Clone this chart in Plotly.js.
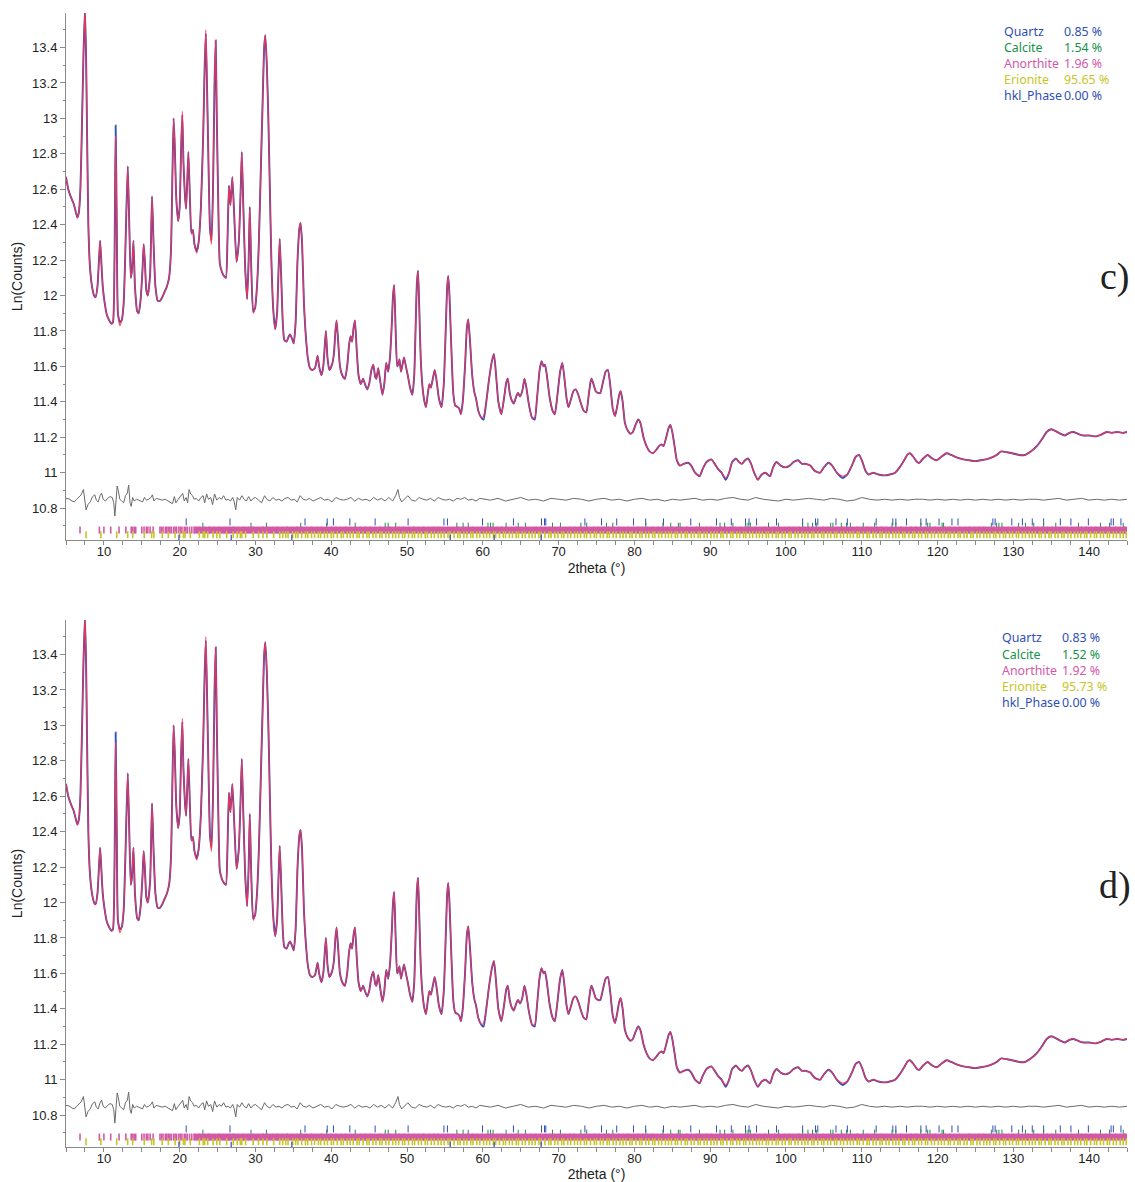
<!DOCTYPE html>
<html><head><meta charset="utf-8">
<script src="https://cdn.plot.ly/plotly-3.0.1.min.js"></script>
<style>html,body{margin:0;padding:0;background:#fff}</style>
</head><body><div id="chart" style="width:1135px;height:1182px"></div>
<script>
// ---------- DATA ----------
// observed profile: [2theta, Ln(Counts)]
const observed = [
[5.0,12.67],[5.3,12.6],[5.7,12.55],[6.0,12.52],[6.3,12.47],[6.5,12.44],[6.7,12.47],[6.9,12.6],[7.1,12.95],[7.3,13.35],[7.5,13.62],[7.65,13.35],[7.8,12.85],[7.95,12.4],[8.15,12.17],[8.4,12.06],[8.7,12.0],[8.9,11.99],[9.15,12.05],[9.35,12.2],[9.5,12.31],[9.65,12.2],[9.85,12.05],[10.1,11.96],[10.4,11.89],[10.7,11.86],[11.0,11.84],[11.2,11.85],[11.4,12.2],[11.55,12.96],[11.7,12.4],[11.85,11.9],[12.1,11.85],[12.35,11.86],[12.6,11.95],[12.8,12.2],[12.95,12.45],[13.15,12.73],[13.35,12.4],[13.55,12.1],[13.7,12.14],[13.9,12.31],[14.1,12.05],[14.4,11.91],[14.6,11.9],[14.85,11.98],[15.1,12.15],[15.25,12.29],[15.4,12.2],[15.6,12.03],[15.8,12.0],[16.1,12.12],[16.35,12.56],[16.55,12.3],[16.8,12.05],[17.1,11.97],[17.4,11.97],[17.7,11.99],[18.0,12.02],[18.3,12.05],[18.6,12.1],[18.85,12.25],[19.05,12.7],[19.2,13.0],[19.35,12.85],[19.55,12.55],[19.8,12.42],[20.0,12.5],[20.2,12.85],[20.35,13.02],[20.5,12.75],[20.7,12.56],[20.85,12.49],[21.0,12.65],[21.15,12.81],[21.35,12.55],[21.55,12.35],[21.75,12.37],[21.95,12.29],[22.25,12.25],[22.5,12.3],[22.8,12.5],[23.1,12.9],[23.3,13.3],[23.45,13.48],[23.6,13.2],[23.8,12.75],[24.0,12.38],[24.2,12.31],[24.4,12.6],[24.6,13.2],[24.75,13.44],[24.9,13.0],[25.1,12.5],[25.3,12.18],[25.6,12.13],[25.85,12.11],[26.1,12.1],[26.3,12.3],[26.5,12.62],[26.7,12.51],[26.95,12.67],[27.2,12.45],[27.5,12.19],[27.8,12.3],[28.05,12.6],[28.2,12.81],[28.4,12.5],[28.65,12.15],[28.9,11.98],[29.1,12.2],[29.25,12.5],[29.45,12.15],[29.7,11.91],[29.95,11.93],[30.2,12.05],[30.45,12.3],[30.7,12.7],[30.95,13.1],[31.15,13.4],[31.3,13.47],[31.5,13.3],[31.7,13.0],[31.9,12.6],[32.1,12.2],[32.35,11.92],[32.6,11.81],[32.85,11.9],[33.05,12.15],[33.2,12.32],[33.4,12.1],[33.6,11.85],[33.8,11.75],[34.1,11.74],[34.4,11.77],[34.55,11.78],[34.8,11.76],[35.05,11.73],[35.3,11.85],[35.55,12.2],[35.8,12.38],[35.95,12.41],[36.15,12.3],[36.4,11.95],[36.6,11.8],[36.9,11.65],[37.2,11.59],[37.5,11.58],[37.85,11.59],[38.05,11.63],[38.2,11.66],[38.4,11.6],[38.7,11.55],[38.95,11.6],[39.15,11.72],[39.3,11.8],[39.5,11.65],[39.75,11.58],[40.1,11.61],[40.35,11.67],[40.55,11.8],[40.7,11.86],[40.9,11.75],[41.15,11.6],[41.45,11.55],[41.8,11.53],[42.1,11.6],[42.35,11.72],[42.55,11.77],[42.75,11.74],[42.95,11.82],[43.13,11.86],[43.35,11.7],[43.6,11.55],[43.9,11.5],[44.2,11.53],[44.45,11.5],[44.75,11.47],[45.0,11.5],[45.3,11.58],[45.55,11.61],[45.8,11.54],[45.95,11.53],[46.2,11.59],[46.45,11.52],[46.75,11.44],[47.0,11.5],[47.25,11.62],[47.5,11.57],[47.75,11.65],[48.0,11.85],[48.15,12.0],[48.3,12.06],[48.5,11.8],[48.7,11.6],[48.9,11.62],[49.0,11.64],[49.2,11.57],[49.4,11.61],[49.6,11.65],[49.85,11.6],[50.1,11.55],[50.4,11.48],[50.7,11.44],[50.95,11.55],[51.15,11.85],[51.3,12.07],[51.45,12.14],[51.6,11.95],[51.8,11.65],[52.05,11.48],[52.3,11.4],[52.5,11.37],[52.75,11.45],[52.95,11.5],[53.15,11.48],[53.4,11.53],[53.65,11.58],[53.9,11.52],[54.2,11.42],[54.55,11.37],[54.85,11.5],[55.1,11.8],[55.3,12.05],[55.44,12.11],[55.6,12.0],[55.85,11.7],[56.1,11.45],[56.35,11.38],[56.7,11.37],[56.9,11.36],[57.1,11.33],[57.35,11.4],[57.65,11.6],[57.9,11.82],[58.08,11.865],[58.3,11.75],[58.6,11.55],[58.9,11.45],[59.1,11.42],[59.4,11.35],[59.8,11.31],[60.1,11.3],[60.4,11.38],[60.8,11.52],[61.2,11.63],[61.47,11.67],[61.75,11.55],[62.05,11.4],[62.45,11.33],[62.8,11.42],[63.1,11.51],[63.3,11.53],[63.55,11.45],[63.8,11.41],[64.1,11.39],[64.4,11.43],[64.65,11.45],[64.9,11.43],[65.2,11.46],[65.5,11.53],[65.75,11.48],[66.1,11.38],[66.5,11.31],[66.85,11.3],[67.15,11.42],[67.5,11.58],[67.75,11.63],[68.0,11.6],[68.2,11.61],[68.45,11.55],[68.8,11.43],[69.2,11.35],[69.5,11.33],[69.8,11.42],[70.2,11.57],[70.5,11.62],[70.8,11.52],[71.05,11.42],[71.3,11.37],[71.6,11.41],[71.95,11.46],[72.25,11.47],[72.6,11.44],[72.95,11.39],[73.3,11.35],[73.65,11.34],[73.95,11.43],[74.2,11.51],[74.35,11.53],[74.6,11.5],[74.9,11.46],[75.2,11.45],[75.5,11.45],[75.8,11.5],[76.2,11.57],[76.5,11.58],[76.8,11.5],[77.15,11.36],[77.45,11.32],[77.75,11.38],[78.0,11.44],[78.2,11.46],[78.45,11.4],[78.75,11.28],[79.1,11.24],[79.5,11.22],[79.8,11.23],[80.15,11.27],[80.5,11.3],[80.8,11.28],[81.2,11.2],[81.6,11.15],[82.0,11.12],[82.45,11.11],[82.9,11.13],[83.25,11.15],[83.55,11.16],[83.85,11.15],[84.2,11.2],[84.5,11.25],[84.75,11.27],[85.0,11.23],[85.3,11.15],[85.6,11.07],[86.0,11.04],[86.5,11.05],[87.1,11.056],[87.5,11.04],[88.0,11.0],[88.6,10.98],[89.0,11.02],[89.5,11.06],[90.15,11.075],[90.6,11.05],[91.05,11.02],[91.5,11.0],[92.05,10.96],[92.5,11.0],[92.9,11.06],[93.4,11.08],[93.8,11.06],[94.2,11.05],[94.6,11.07],[95.0,11.08],[95.4,11.05],[95.8,11.0],[96.3,10.96],[96.8,10.99],[97.3,11.0],[97.9,10.98],[98.3,11.03],[98.75,11.06],[99.3,11.04],[99.9,11.03],[100.5,11.04],[101.0,11.06],[101.6,11.07],[102.1,11.05],[102.6,11.05],[103.2,11.04],[103.8,11.01],[104.5,11.0],[105.0,11.03],[105.6,11.056],[106.1,11.04],[106.7,11.0],[107.5,10.97],[108.1,10.99],[108.7,11.04],[109.2,11.09],[109.65,11.1],[110.1,11.06],[110.5,11.01],[110.9,10.99],[111.5,11.0],[112.2,10.99],[113.0,10.985],[113.7,10.99],[114.4,11.0],[115.0,11.03],[115.6,11.07],[116.0,11.1],[116.35,11.11],[116.8,11.09],[117.3,11.06],[117.6,11.055],[118.1,11.08],[118.7,11.1],[119.3,11.08],[119.9,11.07],[120.5,11.09],[121.2,11.11],[121.8,11.1],[122.6,11.085],[123.4,11.075],[124.2,11.07],[124.9,11.065],[125.7,11.07],[126.4,11.075],[127.1,11.085],[127.8,11.1],[128.4,11.12],[129.2,11.115],[130.0,11.108],[130.8,11.1],[131.5,11.1],[132.3,11.12],[133.1,11.15],[133.8,11.19],[134.4,11.23],[135.0,11.245],[135.6,11.235],[136.2,11.22],[136.8,11.21],[137.4,11.225],[137.9,11.23],[138.5,11.22],[139.2,11.21],[140.0,11.21],[140.9,11.205],[141.6,11.215],[142.3,11.23],[143.0,11.225],[143.7,11.23],[144.4,11.225],[145.0,11.23]
];
// calculated profile differs from observed only at these points
const calcOverrides = [[11.55,12.9],[12.1,11.83],[20.35,13.04],[22.25,12.24],[23.45,13.5],[24.2,12.29],[29.7,11.9],[60.1,11.32],[66.85,11.31],[92.05,10.97],[107.5,10.98]];

// difference curve (Yobs - Ycalc, shown offset)
const difference = [
[5.0,10.855],[5.4,10.852],[5.8,10.84],[6.1,10.835],[6.4,10.85],[6.7,10.86],[7.0,10.875],[7.3,10.905],[7.5,10.84],[7.65,10.79],[7.9,10.82],[8.2,10.835],[8.5,10.865],[8.8,10.875],[9.0,10.845],[9.25,10.835],[9.5,10.87],[9.7,10.885],[9.9,10.85],[10.2,10.84],[10.5,10.855],[10.8,10.865],[11.1,10.86],[11.3,10.83],[11.45,10.755],[11.6,10.86],[11.75,10.925],[11.9,10.9],[12.1,10.85],[12.35,10.84],[12.6,10.83],[12.85,10.87],[13.1,10.885],[13.27,10.93],[13.45,10.83],[13.6,10.81],[13.8,10.86],[14.0,10.84],[14.3,10.85],[14.6,10.845],[14.9,10.84],[15.1,10.835],[15.35,10.86],[15.6,10.845],[15.9,10.85],[16.2,10.86],[16.4,10.875],[16.6,10.84],[16.9,10.855],[17.3,10.85],[17.7,10.845],[18.1,10.85],[18.5,10.84],[18.8,10.835],[19.05,10.825],[19.3,10.865],[19.5,10.83],[19.8,10.85],[20.1,10.87],[20.4,10.883],[20.6,10.84],[20.85,10.86],[21.05,10.83],[21.25,10.905],[21.45,10.88],[21.7,10.87],[21.9,10.85],[22.2,10.855],[22.5,10.84],[22.8,10.86],[23.1,10.87],[23.3,10.83],[23.55,10.88],[23.8,10.85],[24.1,10.86],[24.35,10.82],[24.6,10.88],[24.9,10.845],[25.2,10.86],[25.5,10.85],[25.8,10.87],[26.1,10.845],[26.4,10.85],[26.7,10.84],[27.0,10.86],[27.2,10.835],[27.4,10.79],[27.6,10.86],[27.9,10.845],[28.2,10.87],[28.5,10.85],[28.8,10.84],[29.1,10.865],[29.4,10.84],[29.7,10.855],[30.0,10.86],[30.4,10.845],[30.8,10.83],[31.2,10.87],[31.5,10.85],[31.9,10.84],[32.3,10.86],[32.7,10.845],[33.1,10.85],[33.5,10.84],[33.9,10.855],[34.3,10.86],[34.7,10.845],[35.1,10.85],[35.5,10.835],[35.9,10.87],[36.3,10.85],[36.7,10.845],[37.1,10.855],[37.6,10.84],[38.1,10.85],[38.6,10.86],[39.1,10.845],[39.6,10.85],[40.1,10.835],[40.6,10.86],[41.1,10.85],[41.6,10.845],[42.1,10.85],[42.6,10.86],[43.1,10.84],[43.6,10.855],[44.1,10.845],[44.6,10.85],[45.1,10.84],[45.6,10.86],[46.1,10.845],[46.6,10.855],[47.1,10.84],[47.6,10.86],[48.1,10.84],[48.5,10.87],[48.8,10.905],[49.0,10.86],[49.3,10.835],[49.6,10.85],[50.1,10.87],[50.6,10.845],[51.1,10.84],[51.6,10.86],[52.1,10.85],[52.6,10.845],[53.1,10.855],[53.6,10.84],[54.1,10.86],[54.6,10.85],[55.1,10.845],[55.6,10.85],[56.1,10.84],[56.6,10.855],[57.1,10.85],[57.6,10.86],[58.1,10.845],[58.6,10.85],[59.1,10.84],[59.6,10.855],[60.1,10.85],[61,10.845],[62,10.855],[63,10.84],[64,10.85],[65,10.86],[66,10.845],[67,10.85],[68,10.84],[69,10.855],[70,10.85],[71,10.845],[72,10.855],[73,10.85],[74,10.84],[75,10.85],[76,10.855],[77,10.845],[78,10.85],[79,10.84],[80,10.85],[81,10.855],[82,10.845],[83,10.85],[84,10.84],[85,10.85],[86,10.845],[87,10.85],[88,10.855],[89,10.845],[90,10.85],[91,10.845],[92,10.855],[93,10.86],[94,10.85],[95,10.845],[96,10.86],[97,10.85],[98,10.845],[99,10.84],[100,10.85],[101,10.845],[102,10.85],[103,10.855],[104,10.85],[105,10.845],[106,10.855],[107,10.85],[108,10.84],[109,10.845],[110,10.86],[111,10.85],[112,10.845],[113,10.85],[114,10.845],[115,10.85],[116,10.845],[117,10.85],[118,10.85],[119,10.845],[120,10.85],[121,10.845],[122,10.85],[123,10.845],[124,10.85],[125,10.845],[126,10.85],[127,10.845],[128,10.85],[129,10.845],[130,10.85],[131,10.845],[132,10.85],[133,10.85],[134,10.845],[135,10.85],[136,10.855],[137,10.845],[138,10.85],[139,10.855],[140,10.845],[141,10.85],[142,10.845],[143,10.85],[144,10.845],[145,10.85]
];

// reflection (hkl) positions, 2theta
const quartzPos = [20.86,26.64,36.54,39.47,40.29,42.45,45.79,50.14,54.87,55.33,59.96,64.04,67.74,68.14,68.31,73.47,75.66,77.67,79.88,81.49,83.84,87.44,90.83,92.79,94.66,95.13,96.12,98.75,102.2,103.9,104.2,106.6,108.1,111.9,114.1,114.5,115.9,117.8,118.5,120.2,121.9,122.7,127.3,127.6,129.8,131.2,132.5,134.0,136.2,137.6,139.9,142.9,143.2,144.2];
const calcitePos = [23.06,29.41,31.44,35.97,39.40,43.16,47.12,47.51,48.51,56.57,57.40,58.08,60.68,61.01,61.36,63.07,64.67,65.62,69.20,70.24,72.94,73.71,76.32,77.15,81.51,83.77,84.79,85.80,86.03,88.58,91.3,91.9,93.0,94.7,95.0,95.3,97.7,99.0,102.2,102.9,103.5,104.0,105.9,106.2,107.3,108.0,108.5,110.2,111.7,114.0,114.5,117.8,118.7,119.0,120.6,120.8,127.1,127.8,128.1,128.5,130.7,131.6,132.7,134.0,135.6,138.6,141.5,142.7,144.5];
const anorthiteLowPos = [6.85,9.4,10.0,10.9,12.0,12.9,13.6,13.8,14.0,14.2,15.0,15.3,15.6,15.8,16.1,16.5,17.4,17.6,17.8,18.1,18.3,18.5,18.7,18.9,19.2,19.4,19.6,19.9,20.1,20.3,20.6,20.8,21.0,21.3,21.6,21.9];
const anorthiteBandPos = [22.3,22.9,23.6,24.2,24.9,25.5,26.2,26.8,27.4,28.1,28.7,29.4,30.0,30.7,31.3,31.9,32.6,33.2,33.9,34.5,35.2,35.8,36.4,37.1,37.7,38.4,39.0,39.7,40.3,40.9,41.6,42.2,42.9,43.5,44.2,44.8,45.4,46.1,46.7,47.4,48.0,48.7,49.3,49.9,50.6,51.2,51.9,52.5,53.2,53.8,54.4,55.1,55.7,56.4,57.0,57.7,58.3,58.9,59.6,60.2,60.9,61.5,62.2,62.8,63.4,64.1,64.7,65.4,66.0,66.7,67.3,67.9,68.6,69.2,69.9,70.5,71.2,71.8,72.4,73.1,73.7,74.4,75.0,75.7,76.3,76.9,77.6,78.2,78.9,79.5,80.2,80.8,81.4,82.1,82.7,83.4,84.0,84.7,85.3,85.9,86.6,87.2,87.9,88.5,89.2,89.8,90.4,91.1,91.7,92.4,93.0,93.7,94.3,94.9,95.6,96.2,96.9,97.5,98.2,98.8,99.4,100.1,100.7,101.4,102.0,102.7,103.3,103.9,104.6,105.2,105.9,106.5,107.2,107.8,108.4,109.1,109.7,110.4,111.0,111.7,112.3,112.9,113.6,114.2,114.9,115.5,116.2,116.8,117.4,118.1,118.7,119.4,120.0,120.7,121.3,121.9,122.6,123.2,123.9,124.5,125.2,125.8,126.4,127.1,127.7,128.4,129.0,129.7,130.3,130.9,131.6,132.2,132.9,133.5,134.2,134.8,135.4,136.1,136.7,137.4,138.0,138.7,139.3,139.9,140.6,141.2,141.9,142.5,143.2,143.8,144.4,145.0];
const erionitePos = [7.64,9.6,11.69,13.14,13.8,15.33,16.3,16.6,17.7,18.5,19.4,20.0,20.5,20.7,21.4,22.6,23.1,23.3,23.7,24.4,24.9,25.3,26.2,27.07,27.6,28.0,28.2,28.7,29.7,30.4,31.0,31.5,32.4,33.2,33.6,34.0,34.3,34.9,35.3,35.6,36.1,36.6,36.9,37.4,37.8,38.3,38.6,39.1,39.5,40.0,40.3,40.8,41.3,41.6,42.1,42.5,42.9,43.4,43.7,44.2,44.7,45.0,45.5,45.9,46.4,46.7,47.2,47.6,48.1,48.5,48.9,49.4,49.7,50.2,50.7,51.0,51.5,51.9,52.4,52.7,53.2,53.6,54.1,54.5,54.9,55.4,55.7,56.2,56.7,57.0,57.5,57.9,58.4,58.7,59.2,59.6,60.1,60.5,60.9,61.4,61.7,62.2,62.7,63.0,63.5,63.9,64.4,64.7,65.2,65.6,66.1,66.5,66.9,67.4,67.7,68.2,68.7,69.0,69.5,69.9,70.4,70.7,71.2,71.6,72.1,72.5,72.9,73.4,73.7,74.2,74.7,75.0,75.5,75.9,76.4,76.7,77.2,77.6,78.1,78.5,78.9,79.4,79.7,80.2,80.7,81.0,81.5,81.9,82.4,82.7,83.2,83.6,84.1,84.5,84.9,85.4,85.7,86.2,86.7,87.0,87.5,87.9,88.4,88.7,89.2,89.6,90.1,90.5,90.9,91.4,91.7,92.2,92.7,93.0,93.5,93.9,94.4,94.7,95.2,95.6,96.1,96.5,96.9,97.4,97.7,98.2,98.7,99.0,99.5,99.9,100.4,100.7,101.2,101.6,102.1,102.5,102.9,103.4,103.7,104.2,104.7,105.0,105.5,105.9,106.4,106.7,107.2,107.6,108.1,108.5,108.9,109.4,109.7,110.2,110.7,111.0,111.5,111.9,112.4,112.7,113.2,113.6,114.1,114.5,114.9,115.4,115.7,116.2,116.7,117.0,117.5,117.9,118.4,118.7,119.2,119.6,120.1,120.5,120.9,121.4,121.7,122.2,122.7,123.0,123.5,123.9,124.4,124.7,125.2,125.6,126.1,126.5,126.9,127.4,127.7,128.2,128.7,129.0,129.5,129.9,130.4,130.7,131.2,131.6,132.1,132.5,132.9,133.4,133.7,134.2,134.7,135.0,135.5,135.9,136.4,136.7,137.2,137.6,138.1,138.5,138.9,139.4,139.7,140.2,140.7,141.0,141.5,141.9,142.4,142.7,143.2,143.6,144.1,144.5,144.9];
const hklPhasePos = [19.9,26.8,34.8,55.7,61.5,67.7];

// legend (phase quantities) per panel
const phaseNames = ["Quartz","Calcite","Anorthite","Erionite","hkl_Phase"];
const panelCValues = ["0.85 %","1.54 %","1.96 %","95.65 %","0.00 %"];
const panelDValues = ["0.83 %","1.52 %","1.92 %","95.73 %","0.00 %"];
const panelLabels = ["c)","d)"];

// ---------- STYLE ----------
const phaseColors = ["#2f4fb3","#16924a","#d458a8","#c6c628","#2f4fb3"];
const W = 1135, H = 1182;
const M = {l:66, r:8, t:13, b:35};
const PW = W - M.l - M.r, PH = H - M.t - M.b;
const px2x = p => (p - M.l) / PW;
const px2y = p => (H - M.b - p) / PH;

const obsX = observed.map(d => d[0]), obsY = observed.map(d => d[1]);
const calcMap = new Map(calcOverrides.map(d => [d[0], d[1]]));
const calcY = observed.map(d => calcMap.has(d[0]) ? calcMap.get(d[0]) : d[1]);
const difX = difference.map(d => d[0]), difY = difference.map(d => d[1]);

const rowY = {quartz:10.722, calcite:10.698, anorthite:10.676, erionite:10.650, hkl:10.630};

function tickTrace(pos, y, color, len, w, xa, ya){
  return {x:pos, y:pos.map(() => y), xaxis:xa, yaxis:ya, mode:'markers', type:'scatter', hoverinfo:'skip',
    marker:{symbol:'line-ns', size:len, color:color, line:{color:color, width:w}}, showlegend:false};
}
function panelTraces(xa, ya){
  return [
    {x:difX, y:difY, xaxis:xa, yaxis:ya, mode:'lines', line:{color:'#6a6a6a', width:1}, showlegend:false, hoverinfo:'skip'},
    {x:obsX, y:obsY, xaxis:xa, yaxis:ya, mode:'lines', line:{color:'#2f4fc0', width:1.9, shape:'spline', smoothing:0.5}, showlegend:false},
    {x:obsX, y:calcY, xaxis:xa, yaxis:ya, mode:'lines', line:{color:'rgb(255,50,75)', width:1.2, shape:'spline', smoothing:0.5}, opacity:0.9, showlegend:false},
    tickTrace(quartzPos, rowY.quartz, phaseColors[0], 5, 1, xa, ya),
    tickTrace(calcitePos, rowY.calcite, phaseColors[1], 5, 1, xa, ya),
    tickTrace(anorthiteLowPos, rowY.anorthite, phaseColors[2], 5, 1.6, xa, ya),
    tickTrace(anorthiteBandPos, rowY.anorthite, phaseColors[2], 5, 6, xa, ya),
    tickTrace(erionitePos, rowY.erionite, phaseColors[3], 5, 1.6, xa, ya),
    tickTrace(hklPhasePos, rowY.hkl, phaseColors[4], 5, 1.2, xa, ya)
  ];
}

const tickFont = {family:'Liberation Sans, Arial, sans-serif', size:13, color:'#222'};
const titleFont = {family:'Liberation Sans, Arial, sans-serif', size:14, color:'#222'};
function xAxis(anchor){
  return {anchor:anchor, domain:[0,1], range:[5,145], showline:true, linecolor:'#8a8a8a', linewidth:1,
    ticks:'outside', ticklen:4, tickcolor:'#8a8a8a', tick0:0, dtick:10, showgrid:false, zeroline:false,
    ticklabelstandoff:-5,
    minor:{ticks:'outside', ticklen:4, dtick:2.5, tickcolor:'#8a8a8a'},
    tickfont:tickFont, title:{text:'2theta (°)', font:titleFont, standoff:5}, automargin:false};
}
function yAxis(anchor, dom){
  return {anchor:anchor, domain:dom, range:[10.62,13.595], showline:true, linecolor:'#8a8a8a', linewidth:1,
    ticks:'outside', ticklen:5, tickcolor:'#8a8a8a', tick0:10.8, dtick:0.2, showgrid:false, zeroline:false,
    minor:{ticks:'outside', ticklen:2, dtick:0.1, tickcolor:'#8a8a8a'},
    tickfont:tickFont, title:{text:'Ln(Counts)', font:titleFont, standoff:6}, automargin:false};
}

const topDom = [px2y(540), 1];
const botDom = [0, px2y(620)];

const legFont = (c) => ({family:'Noto Sans, Liberation Sans, sans-serif', size:12.4, color:c});
const annotations = [];
function addLegend(values, nameX, valX, y0){
  phaseNames.forEach((n,i) => {
    annotations.push({xref:'paper', yref:'paper', x:px2x(nameX), y:px2y(y0 + 16.2*i), xanchor:'left', yanchor:'middle', text:n, showarrow:false, font:legFont(phaseColors[i])});
    annotations.push({xref:'paper', yref:'paper', x:px2x(valX), y:px2y(y0 + 16.2*i), xanchor:'left', yanchor:'middle', text:values[i], showarrow:false, font:legFont(phaseColors[i])});
  });
}
addLegend(panelCValues, 1002, 1062, 31);
addLegend(panelDValues, 1000, 1060, 638);
const labFont = {family:'Liberation Serif, Times New Roman, serif', size:38, color:'#222'};
annotations.push({xref:'paper', yref:'paper', x:px2x(1115), y:px2y(276), xanchor:'center', yanchor:'middle', text:panelLabels[0], showarrow:false, font:labFont});
annotations.push({xref:'paper', yref:'paper', x:px2x(1115), y:px2y(885), xanchor:'center', yanchor:'middle', text:panelLabels[1], showarrow:false, font:labFont});

const layout = {
  width:W, height:H, margin:M, paper_bgcolor:'#fff', plot_bgcolor:'#fff', showlegend:false,
  xaxis:xAxis('y'), yaxis:yAxis('x', topDom),
  xaxis2:xAxis('y2'), yaxis2:yAxis('x2', botDom),
  annotations:annotations
};

Plotly.newPlot('chart', panelTraces('x','y').concat(panelTraces('x2','y2')), layout, {staticPlot:true, displayModeBar:false});
</script></body></html>
